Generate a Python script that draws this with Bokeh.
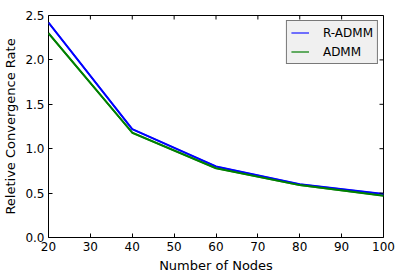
import math
from bokeh.plotting import figure
from bokeh.models import Range1d, Legend, LegendItem, FixedTicker
from bokeh.embed import file_html
from bokeh.resources import INLINE

nodes = [20, 40, 60, 80, 100]
r_admm = [2.42, 1.22, 0.80, 0.60, 0.49]
admm = [2.30, 1.18, 0.78, 0.59, 0.47]
x_ticks = [20, 30, 40, 50, 60, 70, 80, 90, 100]
y_ticks = [0.0, 0.5, 1.0, 1.5, 2.0, 2.5]
x_lo, x_hi = 20, 100
y_lo, y_hi = 0.0, 2.5

FONT = "DejaVu Sans"
FS = "12px"

p = figure(width=401, height=279, output_backend="svg", toolbar_location=None,
           x_range=Range1d(x_lo, x_hi), y_range=Range1d(y_lo, y_hi),
           min_border_left=48, min_border_right=18, min_border_top=15, min_border_bottom=42)
p.grid.visible = False
p.outline_line_color = "black"
p.outline_line_width = 1
p.background_fill_color = "white"
p.border_fill_color = "white"

# legend swatch renderers (lighter, hidden under the main lines)
l1 = p.line(nodes, r_admm, line_color="#4d4dff", line_width=1.6)
l2 = p.line(nodes, admm, line_color="#3d9a3d", line_width=1.6)

p.line(nodes, r_admm, line_color="#0000ff", line_width=2)
p.line(nodes, admm, line_color="#008000", line_width=2)

# ticks on top and right edges (pointing inward)
p.ray(x=x_ticks, y=[y_hi] * len(x_ticks), length=4, length_units="screen",
      angle=-math.pi / 2, line_color="black", line_width=1)
p.ray(x=[x_hi] * len(y_ticks), y=y_ticks, length=4, length_units="screen",
      angle=math.pi, line_color="black", line_width=1)

def style(ax, ticks):
    ax.ticker = FixedTicker(ticks=ticks)
    ax.major_tick_in = 4
    ax.major_tick_out = 0
    ax.minor_tick_line_color = None
    ax.axis_line_color = None
    ax.major_tick_line_color = "black"
    ax.major_label_text_font = FONT
    ax.major_label_text_font_size = FS
    ax.major_label_text_color = "black"
    ax.major_label_standoff = 4
    ax.axis_label_text_font = FONT
    ax.axis_label_text_font_size = "13px"
    ax.axis_label_text_font_style = "normal"
    ax.axis_label_text_color = "black"
    ax.axis_label_standoff = 4

style(p.xaxis[0], x_ticks)
style(p.yaxis[0], y_ticks)
p.yaxis[0].major_label_overrides = {v: f"{v:.1f}" for v in y_ticks}
p.xaxis[0].axis_label = "Number of Nodes"
p.yaxis[0].axis_label = "Reletive Convergence Rate"

legend = Legend(items=[LegendItem(label="R-ADMM", renderers=[l1]),
                       LegendItem(label="ADMM", renderers=[l2])],
                location="top_right")
legend.margin = 5
legend.padding = 4
legend.spacing = 4
legend.label_height = 15
legend.glyph_height = 15
legend.glyph_width = 18
legend.label_standoff = 14
legend.label_text_font = FONT
legend.label_text_font_size = FS
legend.label_text_color = "black"
legend.border_line_color = "black"
legend.border_line_width = 1
legend.background_fill_color = "#f0f0f0"
legend.background_fill_alpha = 1
p.add_layout(legend, "center")

open("out.html", "w").write(file_html(p, INLINE))
